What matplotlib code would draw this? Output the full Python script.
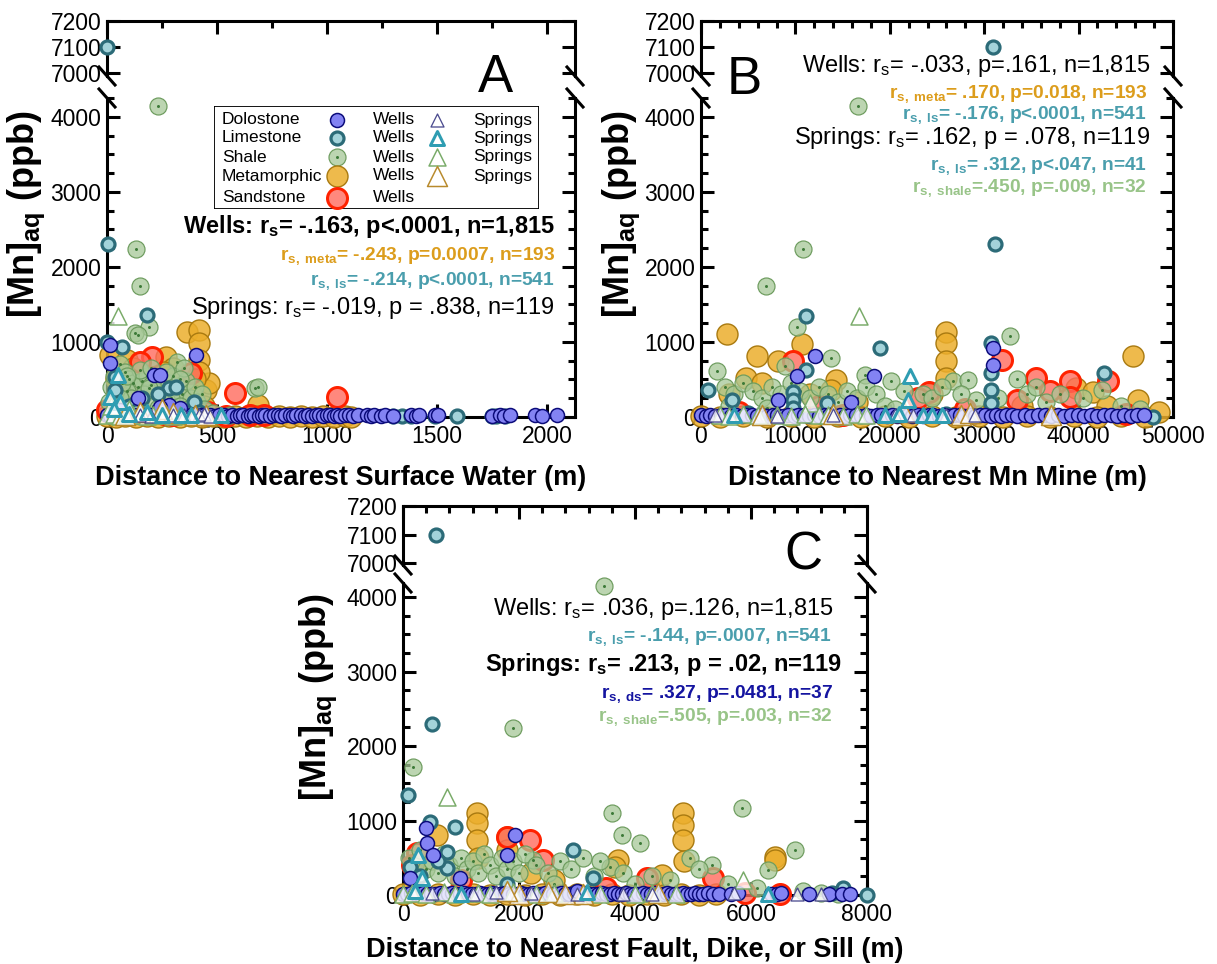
import matplotlib
matplotlib.use('Agg')
import matplotlib.pyplot as plt
from matplotlib.lines import Line2D
from matplotlib.patches import Rectangle
from matplotlib.ticker import MultipleLocator
from matplotlib.colors import to_rgba

plt.rcParams['font.family'] = ['Liberation Sans', 'DejaVu Sans']
plt.rcParams['mathtext.fontset'] = 'custom'
plt.rcParams['mathtext.rm'] = 'Liberation Sans'
plt.rcParams['mathtext.bf'] = 'Liberation Sans:bold'
plt.rcParams['mathtext.it'] = 'Liberation Sans:italic'

# ---------------- data (distance m, [Mn] ppb) ----------------
# Panel A: distance to nearest surface water
A_dolo_w = [(0, 20), (12, 10), (25, 30), (38, 15), (50, 25), (65, 5), (80, 20), (95, 35), (110, 10), (125, 25),
            (140, 15), (155, 30), (170, 20), (185, 10), (200, 25), (215, 15), (230, 35), (245, 20), (260, 10),
            (275, 30), (290, 15), (305, 25), (320, 20), (335, 10), (350, 30), (365, 15), (380, 25), (395, 20),
            (410, 10), (425, 30), (440, 20), (455, 15), (470, 25), (490, 10), (510, 20), (530, 30), (550, 15),
            (570, 25), (590, 10), (605, 20), (620, 30), (640, 15), (655, 20), (670, 25), (690, 10), (705, 20),
            (720, 30), (740, 15), (760, 25), (775, 20), (790, 10), (810, 20), (830, 30), (845, 15), (860, 25),
            (880, 20), (900, 10), (915, 25), (930, 15), (950, 20), (965, 30), (980, 10), (1000, 20), (1015, 25),
            (1030, 15), (1045, 20), (1060, 10), (1080, 25), (1100, 20), (1120, 15), (1140, 30), (1180, 20),
            (1200, 10), (1215, 25), (1245, 15), (1265, 20), (1300, 10), (1380, 20), (1405, 15), (1420, 25),
            (1490, 20), (1505, 30), (1750, 15), (1785, 20), (1805, 10), (1830, 25), (1945, 20), (1975, 15),
            (2045, 20), (13, 955), (13, 717), (215, 560), (240, 560), (403, 823), (139, 250), (283, 160),
            (241, 133), (60, 90), (330, 120)]
A_ls_w = [(0, 7100), (5, 2300), (180, 1355), (0, 1000), (67, 930), (36, 530), (283, 385), (314, 400), (395, 200),
          (36, 360), (160, 250), (100, 150), (230, 300), (300, 100), (420, 60), (130, 80), (250, 40), (1300, 10),
          (1340, 15), (1380, 10), (1490, 15), (1590, 10), (1750, 10), (1770, 15), (1810, 10), (20, 20), (200, 15)]
A_shale_w = [(234, 4150), (130, 2240), (148, 1750), (193, 1200), (126, 1115), (140, 1090), (318, 730), (60, 700),
             (80, 600), (100, 500), (120, 450), (140, 400), (160, 480), (180, 550), (200, 420), (220, 350),
             (240, 500), (260, 300), (280, 450), (300, 550), (320, 350), (340, 300), (360, 480), (380, 250),
             (400, 400), (20, 400), (40, 300), (10, 200), (50, 150), (90, 350), (110, 250), (150, 200), (170, 300),
             (210, 150), (250, 200), (290, 250), (330, 150), (370, 100), (410, 200), (430, 300), (673, 385),
             (686, 400), (70, 450), (190, 380), (270, 600), (350, 650), (30, 550), (150, 620), (440, 100),
             (480, 50), (560, 30), (130, 30), (250, 20), (60, 250), (200, 650), (330, 500), (90, 550), (230, 120)]
A_meta_w = [(363, 1130), (417, 1155), (417, 980), (417, 760), (269, 800), (13, 825), (90, 760), (448, 360),
            (462, 450), (686, 160), (420, 600), (400, 500), (380, 300), (440, 150), (300, 650), (260, 600),
            (120, 650), (40, 500), (0, 10), (40, 5), (80, 10), (130, 5), (180, 10), (230, 5), (280, 10), (330, 5),
            (380, 10), (430, 5), (480, 10), (530, 5), (580, 10), (630, 5), (680, 10), (730, 5), (780, 10),
            (830, 5), (880, 10), (930, 5), (980, 10), (1030, 5), (1080, 10), (1110, 5)]
A_sand_w = [(206, 800), (148, 730), (583, 320), (1045, 270), (381, 585), (0, 90), (260, 40), (650, 30),
            (300, 20), (713, 30), (100, 300), (460, 60), (540, 10)]
A_dolo_s = [(150, 20), (300, 30), (350, 25), (420, 20), (440, 40), (470, 15), (200, 10)]
A_ls_s = [(50, 560), (13, 270), (520, 25), (60, 200), (30, 100), (380, 30), (336, 20), (100, 40), (250, 30),
          (180, 60)]
A_shale_s = [(50, 1350), (0, 20), (30, 40), (60, 10), (90, 30), (120, 20), (150, 50), (180, 10), (210, 30),
             (240, 20), (270, 40), (300, 10), (330, 30), (20, 150), (100, 100)]
A_meta_s = [(300, 50), (400, 30), (150, 60), (80, 20), (250, 100), (450, 20)]

# Panel B: distance to nearest Mn mine
B_dolo_w = [(0, 20), (500, 10), (1000, 25), (1500, 15), (2100, 20), (2600, 30), (3200, 10), (3700, 20),
            (4300, 15), (4800, 25), (5400, 20), (5900, 10), (6500, 25), (7000, 15), (7600, 20), (8100, 30),
            (8700, 10), (9200, 20), (9800, 15), (10300, 25), (10900, 20), (11400, 10), (12000, 25), (12500, 15),
            (13100, 20), (13600, 30), (14200, 10), (14700, 20), (15300, 15), (15800, 25), (16400, 20),
            (16900, 10), (17500, 25), (18000, 15), (18600, 20), (19100, 30), (19700, 10), (20200, 20),
            (20800, 15), (21300, 25), (21900, 20), (22400, 10), (23000, 25), (23500, 15), (24100, 20),
            (24600, 30), (25200, 10), (25700, 20), (26300, 15), (26800, 25), (27400, 20), (27900, 10),
            (28500, 25), (29000, 15), (29600, 20), (30100, 30), (30700, 10), (31200, 20), (31800, 15),
            (32300, 25), (32900, 20), (33500, 10), (34300, 25), (35000, 15), (35700, 20), (36400, 30),
            (37100, 10), (37800, 20), (38500, 15), (39200, 25), (39900, 20), (40600, 10), (41300, 25),
            (42000, 15), (42700, 20), (43400, 30), (44100, 10), (44800, 20), (45500, 15), (46200, 25),
            (46900, 20), (12120, 811), (10120, 540), (8120, 225), (15920, 203), (18320, 540), (30920, 923),
            (30920, 698)]
B_ls_w = [(30960, 7100), (31100, 2300), (11120, 1351), (18920, 923), (720, 360), (11120, 630), (9720, 338),
          (9720, 225), (13320, 180), (3320, 225), (30720, 991), (30720, 585), (30720, 360), (30720, 180),
          (42720, 585), (47920, 0), (5000, 50), (26000, 40), (9700, 120)]
B_shale_w = [(16600, 4150), (10800, 2240), (6920, 1743), (10120, 1194), (13720, 788), (8920, 676), (1720, 608),
             (17320, 563), (20120, 473), (26720, 473), (28320, 495), (29120, 225), (32720, 1081), (42520, 360),
             (2500, 400), (3500, 300), (4500, 450), (5500, 350), (6500, 250), (7500, 400), (8500, 300),
             (9500, 450), (10500, 350), (11500, 250), (12500, 400), (13500, 300), (14500, 200), (15500, 350),
             (16500, 250), (17500, 400), (18500, 300), (19500, 150), (21500, 350), (23500, 300), (24500, 250),
             (25500, 400), (27500, 300), (31500, 250), (33500, 500), (34500, 300), (35500, 400), (36500, 200),
             (38000, 300), (40500, 250), (44500, 150), (46500, 100), (20500, 100), (3000, 150), (7000, 120)]
B_meta_w = [(2720, 1104), (10720, 968), (5920, 811), (8120, 743), (4720, 518), (14320, 495), (13720, 360),
            (25920, 1126), (25920, 991), (25920, 743), (25920, 518), (39720, 383), (41520, 338), (45720, 811),
            (46320, 225), (3000, 300), (6500, 450), (11500, 300), (16500, 200), (24500, 300), (34000, 150),
            (43000, 150), (0, 10), (2000, 5), (4500, 10), (7000, 5), (9500, 10), (12000, 5), (14500, 10),
            (17000, 5), (19500, 10), (22000, 5), (24500, 10), (27000, 5), (29500, 10), (32000, 5), (34500, 10),
            (37000, 5), (39500, 10), (42000, 5), (44500, 10), (47000, 5), (48500, 60)]
B_sand_w = [(9720, 743), (24120, 338), (31920, 766), (35520, 518), (33520, 225), (39120, 473), (39120, 270),
            (43120, 473), (23000, 250), (12500, 150), (28000, 100), (37000, 350), (4000, 60), (15000, 30),
            (45000, 40)]
B_dolo_s = [(1500, 20), (20500, 30), (22500, 20), (29000, 25), (8000, 10), (14000, 30), (26000, 20)]
B_ls_s = [(22120, 540), (21920, 225), (19500, 30), (21000, 40), (23500, 20), (24500, 30), (25500, 20),
          (3500, 30)]
B_shale_s = [(16720, 1351), (11520, 180), (2000, 30), (3000, 10), (4500, 40), (6000, 20), (8000, 30), (9500, 10),
             (11000, 40), (12500, 20), (13500, 30), (15000, 10), (16500, 40), (17500, 20)]
B_meta_s = [(14000, 40), (21500, 60), (27500, 30), (28500, 50), (37120, 20), (6500, 20)]

# Panel C: distance to nearest fault, dike or sill
C_dolo_w = [(0, 20), (70, 10), (140, 25), (210, 15), (280, 20), (350, 30), (420, 10), (490, 20), (560, 15),
            (630, 25), (700, 20), (770, 10), (840, 25), (910, 15), (980, 20), (1050, 30), (1120, 10), (1190, 20),
            (1260, 15), (1330, 25), (1400, 20), (1470, 10), (1540, 25), (1610, 15), (1680, 20), (1750, 30),
            (1820, 10), (1890, 20), (1960, 15), (2030, 25), (2100, 20), (2170, 10), (2240, 25), (2310, 15),
            (2380, 20), (2450, 30), (2520, 10), (2590, 20), (2660, 15), (2730, 25), (2800, 20), (2870, 10),
            (2940, 25), (3010, 15), (3080, 20), (3150, 30), (3220, 10), (3290, 20), (3360, 15), (3430, 25),
            (3500, 20), (3570, 10), (3640, 25), (3710, 15), (3780, 20), (3850, 30), (3920, 10), (3990, 20),
            (4060, 15), (4130, 25), (4200, 20), (4270, 10), (4340, 25), (4410, 15), (4480, 20), (4550, 30),
            (4620, 10), (4690, 20), (4760, 15), (4830, 25), (4900, 20), (4970, 10), (5040, 25), (5110, 15),
            (5180, 20), (5260, 30), (5340, 10), (5450, 20), (5650, 15), (5780, 25), (6350, 20), (6450, 10),
            (6520, 25), (7000, 15), (7350, 20), (7570, 10), (7700, 20), (397, 899), (414, 698), (520, 537),
            (121, 228), (983, 228), (1931, 805), (1793, 537), (3000, 50)]
C_ls_w = [(570, 7100), (500, 2300), (90, 1342), (465, 980), (897, 913), (759, 577), (759, 362), (121, 376),
          (2931, 604), (3276, 228), (7586, 94), (8000, 0), (7400, 30), (600, 450), (300, 250), (1800, 150)]
C_shale_w = [(3466, 4150), (1900, 2240), (172, 1718), (3603, 1100), (3776, 805), (4086, 698), (3569, 376),
             (4948, 497), (5328, 403), (5845, 1168), (6293, 336), (6759, 604), (2241, 470), (100, 500), (200, 400),
             (300, 600), (400, 350), (500, 450), (600, 300), (700, 550), (800, 400), (900, 250), (1000, 500),
             (1100, 350), (1200, 450), (1300, 300), (1400, 550), (1500, 400), (1600, 250), (1700, 500),
             (1800, 350), (1900, 450), (2000, 300), (2100, 550), (2300, 400), (2500, 300), (2700, 450),
             (2900, 350), (3100, 500), (3300, 250), (3400, 450), (3800, 300), (4300, 250), (4600, 200),
             (5100, 350), (5600, 150), (6100, 100), (6900, 50), (7200, 30), (7500, 20), (2600, 150), (4000, 150)]
C_meta_w = [(1270, 1100), (1270, 966), (1270, 738), (586, 805), (1793, 779), (3707, 470), (3650, 380),
            (4466, 268), (4828, 1100), (4828, 940), (4828, 738), (6414, 510), (6414, 470), (4850, 450),
            (1300, 500), (1800, 600), (2200, 300), (200, 350), (2600, 200), (0, 10), (300, 5), (600, 10),
            (900, 5), (1200, 10), (1500, 5), (1800, 10), (2100, 5), (2400, 10), (2700, 5), (3000, 10), (3300, 5),
            (3600, 10), (3900, 5), (4200, 10), (4500, 5), (4800, 10), (5100, 5), (5400, 10)]
C_sand_w = [(241, 564), (1793, 779), (2190, 738), (2414, 470), (5345, 228), (4207, 228), (150, 400), (1000, 200),
            (3500, 100), (5900, 30), (6500, 20)]
C_dolo_s = [(500, 30), (1200, 20), (1600, 40), (2200, 30), (3800, 20), (5700, 30), (6800, 20), (7200, 15),
            (3000, 10), (4300, 20)]
C_ls_s = [(259, 537), (328, 228), (3172, 40), (6293, 10), (200, 50), (1000, 20)]
C_shale_s = [(755, 1315), (5862, 201), (0, 20), (150, 30), (400, 10), (700, 40), (900, 20), (1300, 30),
             (1500, 10), (1900, 40), (2300, 20), (2600, 30), (3400, 10), (4000, 20), (4300, 30), (4700, 10)]
C_meta_s = [(2000, 20), (2500, 40), (3100, 10), (4400, 30), (1800, 50), (2800, 20)]

# ---------------- styles ----------------
# (face, edge, diameter px, edge width px, face alpha)
WELL = {'dolo': ('#8383f3', '#0b0b7a', 14, 1.5, 1.0),
        'ls': ('#a3d3da', '#2c6b78', 13, 3.2, 1.0),
        'shale': ('#a6c897', '#6d9c5e', 17, 1.2, 0.75),
        'meta': ('#ebae2c', '#a97a10', 21, 1.4, 0.85),
        'sand': ('#ff6a5c', '#ff2200', 20, 3.0, 0.8)}
SPRING = {'dolo': ('#ffffff', '#4b4b8f', 13, 1.3, 0.8),
          'ls': ('#ffffff', '#2f9db2', 14, 3.0, 0.8),
          'shale': ('#ffffff', '#7aac6a', 17, 1.5, 0.8),
          'meta': ('#ffffff', '#b88a2c', 20, 1.5, 0.8)}
C_META = '#dc9d1c'
C_LS = '#4a9ead'
C_SHALE = '#98c488'
C_DS = '#1414a0'

W, H = 1217, 964
fig = plt.figure(figsize=(W / 100, H / 100), dpi=100)


def rect(x0, y0, x1, y1):
    return [x0 / W, 1 - y1 / H, (x1 - x0) / W, (y1 - y0) / H]


def brk(xp, yp):
    fig.add_artist(Line2D([(xp - 8) / W, (xp + 8) / W], [1 - (yp - 9) / H, 1 - (yp + 9) / H],
                          color='k', lw=2.2, transform=fig.transFigure))


def make_panel(x0, x1, up, low, xlim, ylim_up, ylim_low, xmaj, xmin):
    au = fig.add_axes(rect(x0, up[0], x1, up[1]))
    al = fig.add_axes(rect(x0, low[0], x1, low[1]))
    for ax in (au, al):
        ax.set_xlim(*xlim)
        for s in ax.spines.values():
            s.set_linewidth(2.2)
        ax.xaxis.set_major_locator(MultipleLocator(xmaj))
        ax.xaxis.set_minor_locator(MultipleLocator(xmin))
        ax.tick_params(which='both', direction='in', width=2.2, labelsize=16.5, right=True, pad=4)
        ax.tick_params(which='major', length=9.5)
        ax.tick_params(which='minor', length=5)
    au.set_ylim(*ylim_up)
    au.set_yticks([7000, 7100, 7200])
    au.spines['bottom'].set_visible(False)
    au.tick_params(axis='x', which='both', top=True, bottom=False, labelbottom=False)
    al.set_ylim(*ylim_low)
    al.set_yticks([0, 1000, 2000, 3000, 4000])
    al.yaxis.set_minor_locator(MultipleLocator(250))
    al.spines['top'].set_visible(False)
    al.tick_params(axis='x', which='both', top=False, bottom=True, pad=6)
    for xp in (x0, x1):
        brk(xp, up[1])
        brk(xp, low[0])
    return au, al


def pts_plot(au, al, pts, st, marker, z, dot=False):
    fc, ec, d, lw, a = st
    for ax, sel in ((al, [p for p in pts if p[1] < 5000]), (au, [p for p in pts if p[1] >= 5000])):
        if not sel:
            continue
        xs = [p[0] for p in sel]
        ys = [p[1] for p in sel]
        ax.scatter(xs, ys, s=(d * 0.72) ** 2, marker=marker, facecolor=to_rgba(fc, a), edgecolor=ec,
                   linewidths=lw * 0.72, zorder=z, clip_on=False)
        if dot:
            ax.scatter(xs, ys, s=(3 * 0.72) ** 2, color='#3d7a38', linewidths=0, zorder=z + 0.01, clip_on=False)


def fill_panel(au, al, dw, lw_, sw, mw, saw, ds, ls, ss, ms):
    pts_plot(au, al, mw, WELL['meta'], 'o', 3.0)
    pts_plot(au, al, saw, WELL['sand'], 'o', 3.1)
    pts_plot(au, al, sw, WELL['shale'], 'o', 3.2, dot=True)
    pts_plot(au, al, lw_, WELL['ls'], 'o', 3.3)
    pts_plot(au, al, dw, WELL['dolo'], 'o', 3.4)
    pts_plot(au, al, ss, SPRING['shale'], '^', 3.5)
    pts_plot(au, al, ms, SPRING['meta'], '^', 3.6)
    pts_plot(au, al, ds, SPRING['dolo'], '^', 3.7)
    pts_plot(au, al, ls, SPRING['ls'], '^', 3.8)


def ftext(xp, yp, s, **kw):
    fig.text(xp / W, 1 - yp / H, s, **kw)


ylab = r'[Mn]$_{\mathbf{aq}}$ (ppb)'

# Panel A
auA, alA = make_panel(107, 575, (21, 76), (98, 417), (0, 2127), (6990, 7200), (0, 4250), 500, 250)
fill_panel(auA, alA, A_dolo_w, A_ls_w, A_shale_w, A_meta_w, A_sand_w, A_dolo_s, A_ls_s, A_shale_s, A_meta_s)
# Panel B
auB, alB = make_panel(701, 1173, (21, 76), (98, 417), (0, 50000), (6990, 7200), (0, 4250), 10000, 2000)
fill_panel(auB, alB, B_dolo_w, B_ls_w, B_shale_w, B_meta_w, B_sand_w, B_dolo_s, B_ls_s, B_shale_s, B_meta_s)
# Panel C
auC, alC = make_panel(403, 867, (506, 565), (583, 895), (0, 8000), (6993, 7200), (0, 4190), 2000, 400)
fill_panel(auC, alC, C_dolo_w, C_ls_w, C_shale_w, C_meta_w, C_sand_w, C_dolo_s, C_ls_s, C_shale_s, C_meta_s)

# axis labels
ftext(341, 478, 'Distance to Nearest Surface Water (m)', fontsize=19.5, fontweight='bold', ha='center', va='center')
ftext(937, 478, 'Distance to Nearest Mn Mine (m)', fontsize=19.5, fontweight='bold', ha='center', va='center')
ftext(635, 950, 'Distance to Nearest Fault, Dike, or Sill (m)', fontsize=19.5, fontweight='bold', ha='center',
      va='center')
for xp, yp in ((26, 214), (621, 214), (318, 697)):
    ftext(xp, yp, ylab, fontsize=26, fontweight='bold', rotation=90, ha='center', va='center')

# panel letters
ftext(495, 78, 'A', fontsize=38, ha='center', va='center')
ftext(744, 80, 'B', fontsize=38, ha='center', va='center')
ftext(803, 555, 'C', fontsize=38, ha='center', va='center')

# statistics text
big = 17
small = 13.8
ftext(555, 227, r'Wells: r$_{\mathbf{s}}$= -.163, p<.0001, n=1,815', fontsize=big, fontweight='bold', ha='right', va='center')
ftext(555, 256, r'r$_{\mathbf{s,\ meta}}$= -.243, p=0.0007, n=193', fontsize=small, fontweight='bold', color=C_META, ha='right', va='center')
ftext(555, 281, r'r$_{\mathbf{s,\ ls}}$= -.214, p<.0001, n=541', fontsize=small, fontweight='bold', color=C_LS, ha='right', va='center')
ftext(555, 308, r'Springs: r$_{\mathrm{s}}$= -.019, p = .838, n=119', fontsize=big, ha='right', va='center')

ftext(1150, 66, r'Wells: r$_{\mathrm{s}}$= -.033, p=.161, n=1,815', fontsize=big, ha='right', va='center')
ftext(1147, 94, r'r$_{\mathbf{s,\ meta}}$= .170, p=0.018, n=193', fontsize=small, fontweight='bold', color=C_META, ha='right', va='center')
ftext(1147, 115, r'r$_{\mathbf{s,\ ls}}$= -.176, p<.0001, n=541', fontsize=small, fontweight='bold', color=C_LS, ha='right', va='center')
ftext(1150, 138, r'Springs: r$_{\mathrm{s}}$= .162, p = .078, n=119', fontsize=big, ha='right', va='center')
ftext(1147, 166, r'r$_{\mathbf{s,\ ls}}$= .312, p<.047, n=41', fontsize=small, fontweight='bold', color=C_LS, ha='right', va='center')
ftext(1147, 188, r'r$_{\mathbf{s,\ shale}}$=.450, p=.009, n=32', fontsize=small, fontweight='bold', color=C_SHALE, ha='right', va='center')

ftext(833, 609, r'Wells: r$_{\mathrm{s}}$= .036, p=.126, n=1,815', fontsize=big, ha='right', va='center')
ftext(832, 637, r'r$_{\mathbf{s,\ ls}}$= -.144, p=.0007, n=541', fontsize=small, fontweight='bold', color=C_LS, ha='right', va='center')
ftext(842, 665, r'Springs: r$_{\mathbf{s}}$= .213, p = .02, n=119', fontsize=big, fontweight='bold', ha='right', va='center')
ftext(833, 694, r'r$_{\mathbf{s,\ ds}}$= .327, p=.0481, n=37', fontsize=small, fontweight='bold', color=C_DS, ha='right', va='center')
ftext(833, 717, r'r$_{\mathbf{s,\ shale}}$=.505, p=.003, n=32', fontsize=small, fontweight='bold', color=C_SHALE, ha='right', va='center')

# legend box in panel A
lax = fig.add_axes(rect(214, 106, 539, 209))
lax.set_xlim(0, 325)
lax.set_ylim(103, 0)
lax.axis('off')
lax.add_patch(Rectangle((0, 0), 325, 103, facecolor='white', edgecolor='black', lw=1.3, zorder=1))
names = ['Dolostone', 'Limestone', 'Shale', 'Metamorphic', 'Sandstone']
keys = ['dolo', 'ls', 'shale', 'meta', 'sand']
rows = [14, 32, 51, 70, 92]
for name, key, ry in zip(names, keys, rows):
    lax.text(8, ry, name, fontsize=12.5, ha='left', va='center')
    fc, ec, d, lwp, a = WELL[key]
    lax.scatter([123], [ry], s=(d * 0.72) ** 2, facecolor=to_rgba(fc, a), edgecolor=ec,
                linewidths=lwp * 0.72, zorder=3, clip_on=False)
    if key == 'shale':
        lax.scatter([123], [ry], s=(3 * 0.72) ** 2, color='#3d7a38', linewidths=0, zorder=4)
    lax.text(159, ry, 'Wells', fontsize=12.5, ha='left', va='center')
    if key in SPRING:
        fc, ec, d, lwp, a = SPRING[key]
        lax.scatter([223], [ry], s=(d * 0.72) ** 2, marker='^', facecolor='white', edgecolor=ec,
                    linewidths=lwp * 0.72, zorder=3)
        lax.text(259, ry, 'Springs', fontsize=12.5, ha='left', va='center')

fig.savefig('out.png', dpi=100)
